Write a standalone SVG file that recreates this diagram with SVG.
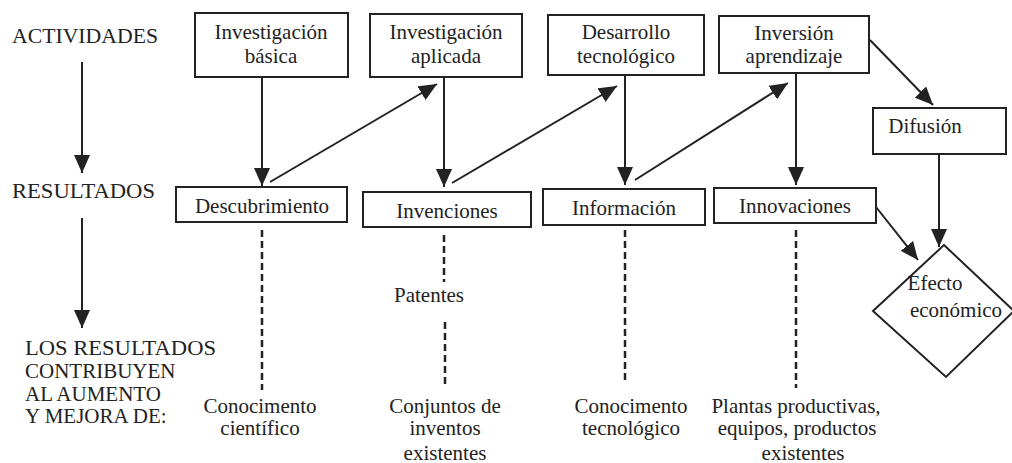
<svg xmlns="http://www.w3.org/2000/svg" width="1012" height="463" viewBox="0 0 1012 463">
<style>
text{font-family:"Liberation Serif","Times New Roman",Tinos,"Noto Serif","Nimbus Roman","FreeSerif","DejaVu Serif",serif;font-size:21px;fill:#222;}
.c{text-anchor:middle;}
.box{fill:#fff;stroke:#222;stroke-width:2;}
.ln{stroke:#222;stroke-width:2;fill:none;}
.ds{stroke:#222;stroke-width:2.5;fill:none;stroke-dasharray:7,4;}
</style>
<defs>
<marker id="ah" markerUnits="userSpaceOnUse" markerWidth="18" markerHeight="16" refX="18" refY="8" orient="auto" viewBox="0 0 18 16">
<path d="M0,0 L18,8 L0,16 z" fill="#222"/>
</marker>
</defs>
<rect width="1012" height="463" fill="#fff"/>

<g id="labels">
<text x="12" y="43" textLength="146" lengthAdjust="spacingAndGlyphs">ACTIVIDADES</text>
<text x="12" y="198" textLength="143" lengthAdjust="spacingAndGlyphs">RESULTADOS</text>
<text x="25" y="355" textLength="191" lengthAdjust="spacingAndGlyphs">LOS RESULTADOS</text>
<text x="25" y="378">CONTRIBUYEN</text>
<text x="25" y="401">AL AUMENTO</text>
<text x="25" y="423">Y MEJORA DE:</text>
</g>

<g id="connectors">
<line class="ln" x1="82" y1="62" x2="82" y2="173" marker-end="url(#ah)"/>
<line class="ln" x1="82" y1="218" x2="82" y2="328" marker-end="url(#ah)"/>
<line class="ln" x1="262" y1="77" x2="262" y2="186" marker-end="url(#ah)"/>
<line class="ln" x1="270" y1="182" x2="437" y2="84" marker-end="url(#ah)"/>
<line class="ln" x1="444" y1="77" x2="444" y2="187" marker-end="url(#ah)"/>
<line class="ln" x1="452" y1="183" x2="617" y2="86" marker-end="url(#ah)"/>
<line class="ln" x1="625" y1="75" x2="625" y2="185" marker-end="url(#ah)"/>
<line class="ln" x1="635" y1="180" x2="788" y2="83" marker-end="url(#ah)"/>
<line class="ln" x1="796" y1="73" x2="796" y2="185" marker-end="url(#ah)"/>
<line class="ln" x1="870" y1="40" x2="933" y2="105" marker-end="url(#ah)"/>
<line class="ln" x1="939" y1="154" x2="939" y2="247" marker-end="url(#ah)"/>
<line class="ln" x1="876" y1="207" x2="918" y2="260" marker-end="url(#ah)"/>
<line class="ds" x1="262" y1="230" x2="262" y2="390"/>
<line class="ds" x1="444" y1="235" x2="444" y2="282"/>
<line class="ds" x1="445" y1="322" x2="445" y2="388"/>
<line class="ds" x1="625" y1="230" x2="625" y2="382"/>
<line class="ds" x1="796" y1="230" x2="796" y2="388"/>
</g>

<g id="inv-basica">
<rect class="box" x="195" y="13" width="153" height="64"/>
<text class="c" x="271" y="39">Investigación</text>
<text class="c" x="271" y="63">básica</text>
</g>
<g id="inv-aplicada">
<rect class="box" x="370" y="14" width="152" height="63"/>
<text class="c" x="446" y="39">Investigación</text>
<text class="c" x="446" y="63">aplicada</text>
</g>
<g id="desarrollo">
<rect class="box" x="548" y="15" width="156" height="60"/>
<text class="c" x="626" y="39">Desarrollo</text>
<text class="c" x="626" y="63">tecnológico</text>
</g>
<g id="inversion">
<rect class="box" x="719" y="16" width="150" height="57"/>
<text class="c" x="794" y="40">Inversión</text>
<text class="c" x="794" y="63">aprendizaje</text>
</g>
<g id="difusion">
<rect class="box" x="873" y="108" width="133" height="46"/>
<text class="c" x="925" y="133">Difusión</text>
</g>
<g id="descubrimiento">
<rect class="box" x="176" y="187" width="171" height="35"/>
<text class="c" x="262" y="213">Descubrimiento</text>
</g>
<g id="invenciones">
<rect class="box" x="363" y="192" width="168" height="35"/>
<text class="c" x="447" y="218">Invenciones</text>
</g>
<g id="informacion">
<rect class="box" x="543" y="189" width="162" height="36"/>
<text class="c" x="624" y="215">Información</text>
</g>
<g id="innovaciones">
<rect class="box" x="714" y="188" width="162" height="35"/>
<text class="c" x="795" y="213">Innovaciones</text>
</g>
<g id="efecto">
<polygon class="box" points="944,245 1014,311 946,377 873,311"/>
<text class="c" x="935" y="290">Efecto</text>
<text class="c" x="956" y="317">económico</text>
</g>

<g id="outcomes">
<text class="c" x="429" y="302">Patentes</text>
<text class="c" x="260" y="413">Conocimento</text>
<text class="c" x="260" y="435">científico</text>
<text class="c" x="445" y="413">Conjuntos de</text>
<text class="c" x="445" y="435">inventos</text>
<text class="c" x="445" y="460">existentes</text>
<text class="c" x="631" y="413">Conocimento</text>
<text class="c" x="631" y="435">tecnológico</text>
<text class="c" x="796" y="413">Plantas productivas,</text>
<text class="c" x="797" y="435">equipos, productos</text>
<text class="c" x="803" y="460">existentes</text>
</g>
</svg>
